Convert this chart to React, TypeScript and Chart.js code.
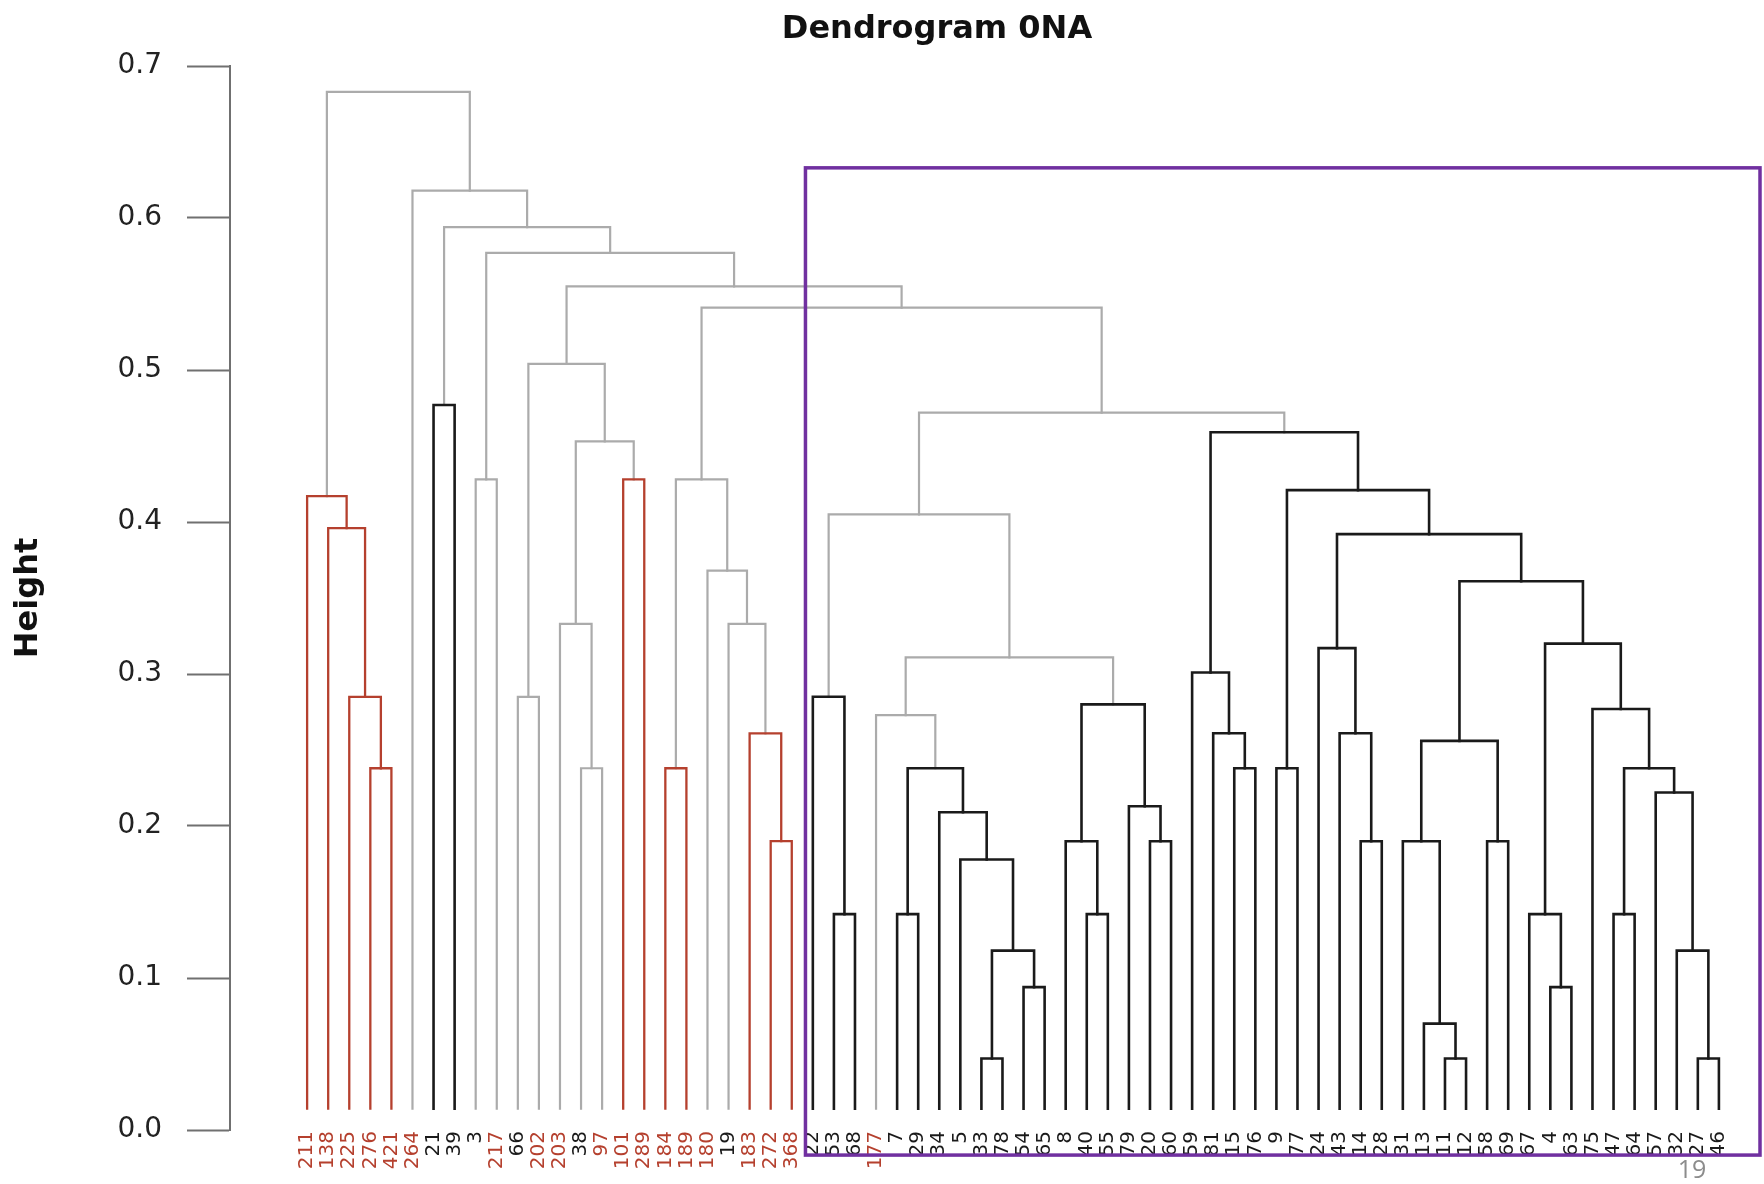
import React, { useEffect, useRef } from 'react';
import { Chart, registerables } from 'chart.js';

Chart.register(...registerables);

// ---------- DATA ----------
const leafLabels = ['211','138','225','276','421','264','21','39','3','217','66','202','203','38','97','101','289','184','189','180','19','183','272','368','22','53','68','177','7','29','34','5','33','78','54','65','8','40','55','79','20','60','59','81','15','76','9','77','24','43','14','28','31','13','11','12','58','69','67','4','63','75','47','64','57','32','27','46'];

const redLeafLabels = ['211','138','225','276','421','264','217','202','203','97','101','289','184','189','180','183','272','368','177'];

// merge table: [childA, childB, height, colour]  (negative = leaf position, positive = earlier merge number)
const merges: [number, number, number, string][] = [
  [-33, -34, 0.047, 'K'],
  [-55, -56, 0.047, 'K'],
  [-67, -68, 0.047, 'K'],
  [-54, 2, 0.070, 'K'],
  [-35, -36, 0.094, 'K'],
  [-60, -61, 0.094, 'K'],
  [1, 5, 0.118, 'K'],
  [-66, 3, 0.118, 'K'],
  [-26, -27, 0.142, 'K'],
  [-29, -30, 0.142, 'K'],
  [-38, -39, 0.142, 'K'],
  [-59, 6, 0.142, 'K'],
  [-63, -64, 0.142, 'K'],
  [-32, 7, 0.178, 'K'],
  [-23, -24, 0.190, 'R'],
  [-37, 11, 0.190, 'K'],
  [-41, -42, 0.190, 'K'],
  [-51, -52, 0.190, 'K'],
  [-53, 4, 0.190, 'K'],
  [-57, -58, 0.190, 'K'],
  [-31, 14, 0.209, 'K'],
  [-40, 17, 0.213, 'K'],
  [-65, 8, 0.222, 'K'],
  [-4, -5, 0.238, 'R'],
  [-14, -15, 0.238, 'G'],
  [-18, -19, 0.238, 'R'],
  [10, 21, 0.238, 'K'],
  [-45, -46, 0.238, 'K'],
  [-47, -48, 0.238, 'K'],
  [13, 23, 0.238, 'K'],
  [19, 20, 0.256, 'K'],
  [-22, 15, 0.261, 'R'],
  [-44, 28, 0.261, 'K'],
  [-50, 18, 0.261, 'K'],
  [-28, 27, 0.273, 'G'],
  [-62, 30, 0.277, 'K'],
  [16, 22, 0.280, 'K'],
  [-25, 9, 0.285, 'K'],
  [-11, -12, 0.285, 'G'],
  [-3, 24, 0.285, 'R'],
  [-43, 33, 0.301, 'K'],
  [35, 37, 0.311, 'G'],
  [-49, 34, 0.317, 'K'],
  [12, 36, 0.320, 'K'],
  [-13, 25, 0.333, 'G'],
  [-21, 32, 0.333, 'G'],
  [31, 44, 0.361, 'K'],
  [-20, 46, 0.368, 'G'],
  [43, 47, 0.392, 'K'],
  [-2, 40, 0.396, 'R'],
  [38, 42, 0.405, 'G'],
  [-1, 50, 0.417, 'R'],
  [29, 49, 0.421, 'K'],
  [-9, -10, 0.428, 'G'],
  [-16, -17, 0.428, 'R'],
  [26, 48, 0.428, 'G'],
  [45, 55, 0.453, 'G'],
  [41, 53, 0.459, 'K'],
  [51, 58, 0.472, 'G'],
  [-7, -8, 0.477, 'K'],
  [39, 57, 0.504, 'G'],
  [56, 59, 0.541, 'G'],
  [61, 62, 0.555, 'G'],
  [54, 63, 0.577, 'G'],
  [60, 64, 0.594, 'G'],
  [-6, 65, 0.618, 'G'],
  [52, 66, 0.683, 'G'],
];

const leafHeight = 0.014;
const yTickValues = [0, 0.1, 0.2, 0.3, 0.4, 0.5, 0.6, 0.7];
const titleText = 'Dendrogram 0NA';
const yTitleText = 'Height';
const pageNumber = '19';
// highlighted region (purple box) in data units
const boxXRange = [24.65, 69.95];
const boxYRange = [-0.0165, 0.633];

// ---------- STYLE ----------
const COLORS: Record<string, string> = { R: '#B5402E', K: '#1a1a1a', G: '#ababab' };
const LINE_W: Record<string, number> = { R: 2.3, K: 2.6, G: 2.2 };
const FONT = '"DejaVu Sans"';

function buildDatasets() {
  const mx: number[] = [];
  const my: number[] = [];
  const posOf = (ref: number) => (ref < 0 ? { x: -ref, y: leafHeight } : { x: mx[ref - 1], y: my[ref - 1] });
  const datasets: any[] = [];
  merges.forEach(([a, b, h, c]) => {
    const pa = posOf(a);
    const pb = posOf(b);
    mx.push((pa.x + pb.x) / 2);
    my.push(h);
    datasets.push({
      data: [
        { x: pa.x, y: pa.y },
        { x: pa.x, y: h },
        { x: pb.x, y: h },
        { x: pb.x, y: pb.y },
      ],
      showLine: true,
      borderColor: COLORS[c],
      backgroundColor: COLORS[c],
      borderWidth: LINE_W[c],
      pointRadius: 0,
      pointHoverRadius: 0,
      tension: 0,
      borderJoinStyle: 'miter',
      borderCapStyle: 'square',
    });
  });
  return datasets;
}

const overlayPlugin = {
  id: 'overlay',
  afterDraw(chart: any) {
    const { ctx, scales } = chart;
    const x = scales.x;
    const y = scales.y;
    ctx.save();
    const l = x.getPixelForValue(boxXRange[0]);
    const r = x.getPixelForValue(boxXRange[1]);
    const t = y.getPixelForValue(boxYRange[1]);
    const b = y.getPixelForValue(boxYRange[0]);
    ctx.strokeStyle = '#7030A0';
    ctx.lineWidth = 3.5;
    ctx.strokeRect(l, t, r - l, b - t);

    ctx.fillStyle = '#111';
    ctx.font = `bold 32px ${FONT}`;
    ctx.textAlign = 'center';
    ctx.textBaseline = 'alphabetic';
    ctx.fillText(titleText, 937, 38);

    ctx.fillStyle = '#8c8c8c';
    ctx.font = '25px "Open Sans"';
    ctx.fillText(pageNumber, 1692, 1178);
    ctx.restore();
  },
};

export default function App() {
  const ref = useRef<HTMLCanvasElement | null>(null);
  useEffect(() => {
    if (!ref.current) return;
    const chart = new Chart(ref.current, {
      type: 'scatter',
      data: { datasets: buildDatasets() },
      options: {
        animation: false,
        responsive: true,
        maintainAspectRatio: false,
        layout: { padding: { top: 66, left: 0, right: 0, bottom: 54 } },
        plugins: { legend: { display: false }, tooltip: { enabled: false }, title: { display: false } },
        scales: {
          x: {
            type: 'linear',
            position: { y: 0 },
            min: -2.66,
            max: 70.14,
            afterBuildTicks: (axis: any) => {
              axis.ticks = leafLabels.map((_, i) => ({ value: i + 1 }));
            },
            grid: { display: false },
            border: { display: false },
            ticks: {
              autoSkip: false,
              minRotation: 90,
              maxRotation: 90,
              padding: -7,
              font: { family: FONT, size: 20 },
              color: (ctx: any) => (redLeafLabels.includes(leafLabels[ctx.index]) ? COLORS.R : '#1a1a1a'),
              callback: (_v: any, i: number) => leafLabels[i],
            },
          },
          y: {
            type: 'linear',
            min: 0,
            max: 0.7,
            afterBuildTicks: (axis: any) => {
              axis.ticks = yTickValues.map((v) => ({ value: v }));
            },
            afterFit: (scale: any) => {
              scale.width = 230;
            },
            grid: {
              display: true,
              drawOnChartArea: false,
              drawTicks: true,
              tickLength: 43,
              tickColor: '#707070',
              tickWidth: 2,
            },
            border: { display: true, color: '#707070', width: 2 },
            ticks: {
              padding: 25,
              color: '#222',
              font: { family: FONT, size: 28 },
              callback: (v: any) => Number(v).toFixed(1),
            },
            title: {
              display: true,
              text: yTitleText,
              color: '#111',
              font: { family: FONT, size: 32, weight: 'bold' },
              padding: { top: 9, bottom: 0 },
            },
          },
        },
      },
      plugins: [overlayPlugin],
    });
    return () => chart.destroy();
  }, []);

  return (
    <div style={{ position: 'absolute', left: 0, top: 0, width: 1764, height: 1184, background: '#fff' }}>
      <canvas ref={ref} style={{ display: 'block' }} />
    </div>
  );
}
